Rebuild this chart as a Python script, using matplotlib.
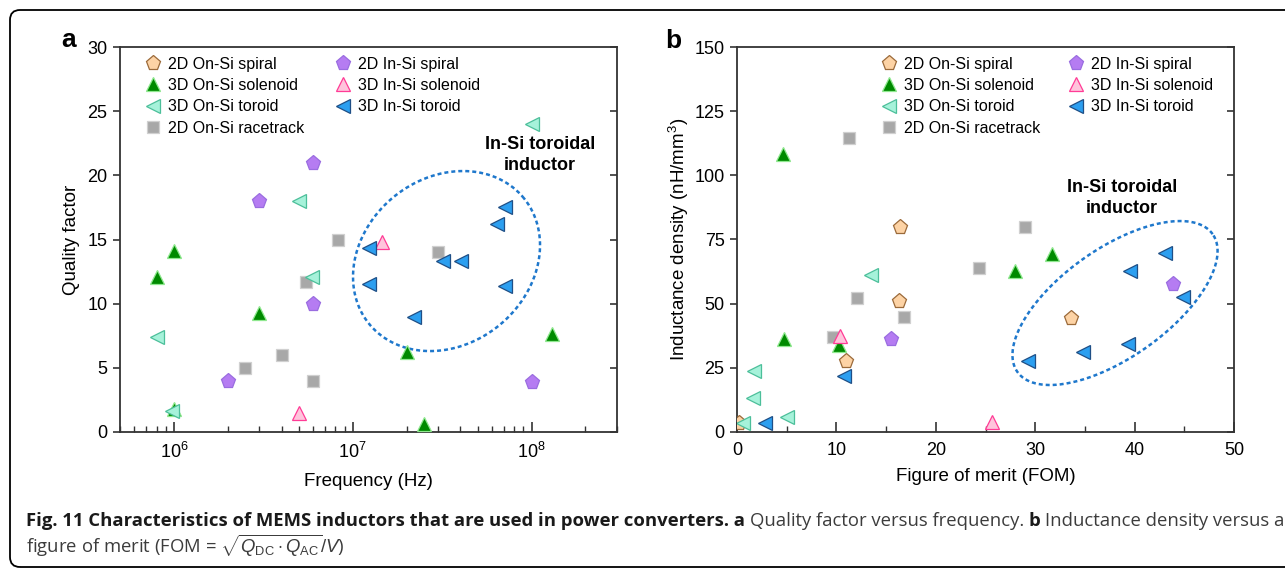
import matplotlib
matplotlib.use('Agg')
import matplotlib.pyplot as plt
import numpy as np
from matplotlib import font_manager
from matplotlib.patches import FancyBboxPatch
from matplotlib.ticker import LogLocator, NullFormatter, MultipleLocator

# ---- panel a: quality factor vs frequency ----
a_on_spiral_f = []
a_on_spiral_q = []
a_in_spiral_f = [6.0e6, 3.0e6, 6.0e6, 2.0e6, 1.0e8]
a_in_spiral_q = [21.0, 18.0, 10.0, 4.0, 3.9]
a_on_sol_f = [8.0e5, 1.0e6, 3.0e6, 1.0e6, 2.0e7, 2.5e7, 1.3e8]
a_on_sol_q = [12.1, 14.1, 9.3, 1.8, 6.2, 0.6, 7.6]
a_in_sol_f = [1.45e7, 5.0e6]
a_in_sol_q = [14.8, 1.5]
a_on_tor_f = [8.0e5, 0.98e6, 5.0e6, 5.9e6, 1.0e8]
a_on_tor_q = [7.4, 1.6, 18.0, 12.1, 24.0]
a_in_tor_f = [1.24e7, 1.24e7, 2.2e7, 3.2e7, 4.05e7, 6.4e7, 7.1e7, 7.1e7]
a_in_tor_q = [14.3, 11.5, 9.0, 13.3, 13.3, 16.2, 17.5, 11.4]
a_race_f = [8.3e6, 5.5e6, 4.0e6, 2.5e6, 6.0e6, 3.0e7]
a_race_q = [15.0, 11.7, 6.0, 5.0, 4.0, 14.0]

# ---- panel b: inductance density vs FOM ----
b_on_spiral_x = [0.2, 11.0, 16.3, 16.4, 33.6]
b_on_spiral_y = [3.5, 27.7, 51.0, 79.9, 44.4]
b_in_spiral_x = [15.5, 43.9]
b_in_spiral_y = [36.2, 57.6]
b_on_sol_x = [4.6, 4.7, 10.3, 28.0, 31.7]
b_on_sol_y = [108.3, 36.2, 33.9, 62.7, 69.3]
b_in_sol_x = [10.4, 25.7]
b_in_sol_y = [37.4, 3.9]
b_on_tor_x = [0.6, 1.6, 1.7, 5.0, 13.5]
b_on_tor_y = [3.5, 13.2, 23.8, 5.8, 61.2]
b_in_tor_x = [2.8, 10.8, 29.3, 34.8, 39.3, 39.5, 43.1, 44.9]
b_in_tor_y = [3.5, 21.8, 27.7, 31.2, 34.3, 62.7, 69.7, 52.6]
b_race_x = [9.7, 11.3, 12.1, 16.8, 24.3, 29.0]
b_race_y = [37.0, 114.5, 52.2, 44.8, 63.9, 79.9]

labels = {
    'on_spiral': '2D On-Si spiral',
    'on_sol': '3D On-Si solenoid',
    'on_tor': '3D On-Si toroid',
    'race': '2D On-Si racetrack',
    'in_spiral': '2D In-Si spiral',
    'in_sol': '3D In-Si solenoid',
    'in_tor': '3D In-Si toroid',
}
legend_order = ['on_spiral', 'on_sol', 'on_tor', 'race', 'in_spiral', 'in_sol', 'in_tor']
draw_order = ['race', 'on_spiral', 'in_spiral', 'on_sol', 'in_sol', 'on_tor', 'in_tor']

styles = {
    'on_spiral': dict(marker='p', ms=11, mfc='#fdd3a5', mec='#9b6a3a'),
    'in_spiral': dict(marker='p', ms=11, mfc='#b57cf2', mec='#9a6de0'),
    'on_sol': dict(marker='^', ms=9.5, mfc='#008a00', mec='#8fe88f'),
    'in_sol': dict(marker='^', ms=10.5, mfc='#ffc4dc', mec='#ff3c96'),
    'on_tor': dict(marker='<', ms=10.5, mfc='#a6f2da', mec='#4cbf9a'),
    'in_tor': dict(marker='<', ms=10.5, mfc='#2c9ff0', mec='#1f4f86'),
    'race': dict(marker='s', ms=9, mfc='#a8a8a8', mec='#d0d0d0'),
}

data_a = {
    'on_spiral': (a_on_spiral_f, a_on_spiral_q),
    'in_spiral': (a_in_spiral_f, a_in_spiral_q),
    'on_sol': (a_on_sol_f, a_on_sol_q),
    'in_sol': (a_in_sol_f, a_in_sol_q),
    'on_tor': (a_on_tor_f, a_on_tor_q),
    'in_tor': (a_in_tor_f, a_in_tor_q),
    'race': (a_race_f, a_race_q),
}
data_b = {
    'on_spiral': (b_on_spiral_x, b_on_spiral_y),
    'in_spiral': (b_in_spiral_x, b_in_spiral_y),
    'on_sol': (b_on_sol_x, b_on_sol_y),
    'in_sol': (b_in_sol_x, b_in_sol_y),
    'on_tor': (b_on_tor_x, b_on_tor_y),
    'in_tor': (b_in_tor_x, b_in_tor_y),
    'race': (b_race_x, b_race_y),
}

plt.rcParams['font.family'] = ['Liberation Sans', 'DejaVu Sans']
plt.rcParams['mathtext.fontset'] = 'custom'
plt.rcParams['mathtext.rm'] = 'Liberation Sans'
plt.rcParams['mathtext.it'] = 'Liberation Sans:italic'
plt.rcParams['mathtext.bf'] = 'Liberation Sans:bold'

names = {f.name for f in font_manager.fontManager.ttflist}
cap_font = 'Liberation Sans Narrow' if 'Liberation Sans Narrow' in names else 'Open Sans'

W, H = 1285, 570
fig = plt.figure(figsize=(W / 100, H / 100), dpi=100)
axa = fig.add_axes([120 / W, 1 - 432 / H, 497 / W, 385 / H])
axb = fig.add_axes([737 / W, 1 - 432 / H, 497 / W, 385 / H])

spine_c = '#333333'


def style_axes(ax, yticks):
    for s in ax.spines.values():
        s.set_color(spine_c)
        s.set_linewidth(1.3)
    ax.tick_params(axis='x', which='both', direction='in', top=False, colors=spine_c,
                   labelcolor='black', labelsize=13, pad=7)
    ax.tick_params(axis='x', which='major', length=7, width=1.2)
    ax.tick_params(axis='x', which='minor', length=4, width=1.0)
    ax.tick_params(axis='y', direction='out', right=False, length=5, width=1.2,
                   colors=spine_c, labelcolor='black', labelsize=13, pad=4)
    ax.set_yticks(yticks)
    sec = ax.secondary_yaxis('right')
    sec.set_yticks(yticks)
    sec.tick_params(direction='in', length=5, width=1.2, colors=spine_c, labelright=False)
    sec.spines['right'].set_visible(False)


def draw(ax, data):
    handles = {}
    for k in draw_order:
        x, y = data[k]
        st = styles[k]
        h, = ax.plot(x, y, ls='none', marker=st['marker'], ms=st['ms'],
                     mfc=st['mfc'], mec=st['mec'], mew=0.9, zorder=3, label=labels[k])
        handles[k] = h
    return [handles[k] for k in legend_order]


def dashed_ellipse(ax, cx, cy, a, b, ang):
    t = np.linspace(0, 2 * np.pi, 400)
    th = np.radians(ang)
    pos = ax.get_position()
    wpx = pos.width * W
    hpx = pos.height * H
    dx = a * np.cos(t) * np.cos(th) - b * np.sin(t) * np.sin(th)
    dy = a * np.cos(t) * np.sin(th) + b * np.sin(t) * np.cos(th)
    ax.plot(cx + dx / wpx, cy + dy / hpx, transform=ax.transAxes, ls=(0, (1.6, 1.2)),
            lw=1.8, color='#1f78cc', zorder=2, clip_on=False)


leg_kw = dict(loc='upper left', ncol=2, frameon=False, fontsize=11.5, handlelength=1.0,
              handletextpad=0.45, labelspacing=0.4, borderpad=0, borderaxespad=0, numpoints=1)

# panel a
ha = draw(axa, data_a)
axa.set_xscale('log')
axa.set_xlim(5e5, 3e8)
axa.set_ylim(0, 30)
axa.xaxis.set_major_locator(LogLocator(base=10, numticks=10))
axa.xaxis.set_minor_locator(LogLocator(base=10, subs=np.arange(2, 10), numticks=20))
axa.xaxis.set_minor_formatter(NullFormatter())
style_axes(axa, np.arange(0, 31, 5))
axa.set_xlabel('Frequency (Hz)', fontsize=13.5, labelpad=8)
axa.set_ylabel('Quality factor', fontsize=13.5, labelpad=5)
axa.legend(ha, [labels[k] for k in legend_order], bbox_to_anchor=(0.05, 0.975),
           columnspacing=1.9, **leg_kw)
dashed_ellipse(axa, 0.657, 0.444, 99.7, 83.1, 38.9)
axa.text(0.845, 0.7195, 'In-Si toroidal\ninductor', transform=axa.transAxes, ha='center',
         va='center', fontsize=13, fontweight='bold', linespacing=1.25)

# panel b
hb = draw(axb, data_b)
axb.set_xlim(0, 50)
axb.set_ylim(0, 150)
axb.xaxis.set_major_locator(MultipleLocator(10))
axb.xaxis.set_minor_locator(MultipleLocator(5))
style_axes(axb, np.arange(0, 151, 25))
axb.set_xlabel('Figure of merit (FOM)', fontsize=13.5, labelpad=7)
axb.set_ylabel('Inductance density (nH/mm$^3$)', fontsize=13.5, labelpad=2)
axb.legend(hb, [labels[k] for k in legend_order], bbox_to_anchor=(0.29, 0.975),
           columnspacing=1.7, **leg_kw)
dashed_ellipse(axb, 0.7606, 0.335, 119.5, 54.4, 35.2)
axb.text(0.775, 0.608, 'In-Si toroidal\ninductor', transform=axb.transAxes, ha='center',
         va='center', fontsize=13, fontweight='bold', linespacing=1.25)

# panel letters
fig.text(61 / W, 1 - 47 / H, 'a', fontsize=19, fontweight='bold', va='baseline')
fig.text(665 / W, 1 - 48 / H, 'b', fontsize=19, fontweight='bold', va='baseline')

# caption
renderer = fig.canvas.get_renderer()
bold_c = '#1a1a1a'
reg_c = '#3c3c3c'
line1 = [
    ('Fig. 11 Characteristics of MEMS inductors that are used in power converters. a', 'bold', bold_c),
    ('Quality factor versus frequency.', 'normal', reg_c),
    ('b', 'bold', bold_c),
    ('Inductance density versus a', 'normal', reg_c),
]


def measure(txt, size, weight):
    t = fig.text(0, 0, txt, fontsize=size, fontweight=weight, family=[cap_font, 'DejaVu Sans'])
    w = t.get_window_extent(renderer).width
    t.remove()
    return w


def line_width(size):
    tot = 0
    for i, (txt, wt, c) in enumerate(line1):
        tot += measure(txt, size, wt)
        if i < len(line1) - 1:
            tot += measure('x x', size, wt) - measure('xx', size, wt)
    return tot


x0 = 26
target = 1280 - x0
size = 12.5
size = size * target / line_width(size)
x = x0
for i, (txt, wt, c) in enumerate(line1):
    t = fig.text(x / W, 1 - 526 / H, txt, fontsize=size, fontweight=wt, color=c,
                 family=[cap_font, 'DejaVu Sans'], va='baseline', ha='left')
    x = t.get_window_extent(renderer).x1
    x += measure('x x', size, wt) - measure('xx', size, wt)

fig.text(x0 / W, 1 - 553 / H,
         r'figure of merit (FOM = $\sqrt{Q_{\rm DC}\cdot Q_{\rm AC}}/V$)',
         fontsize=size, color=reg_c, family=[cap_font, 'DejaVu Sans'], va='baseline', ha='left')

# rounded frame around the figure
frame = FancyBboxPatch((10, 3), 1300, 557, boxstyle='round,pad=0,rounding_size=10',
                       transform=None, fill=False, lw=1.3, ec='black')
fig.add_artist(frame)

fig.savefig('out.png', dpi=100)
